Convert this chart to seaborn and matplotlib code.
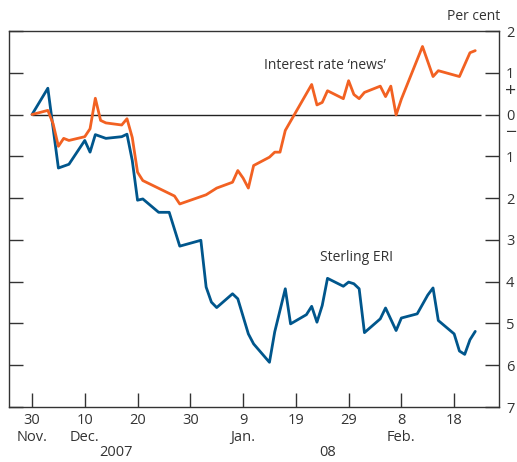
import pandas as pd
import matplotlib
matplotlib.use('Agg')
import matplotlib.pyplot as plt
import matplotlib.dates as mdates
import seaborn as sns

# Sterling ERI, per cent change since 30 Nov 2007
eri_dates = ['2007-11-30', '2007-12-03', '2007-12-05', '2007-12-07', '2007-12-10',
             '2007-12-11', '2007-12-12', '2007-12-14', '2007-12-17', '2007-12-18',
             '2007-12-19', '2007-12-20', '2007-12-21', '2007-12-24', '2007-12-26',
             '2007-12-28', '2008-01-01', '2008-01-02', '2008-01-03', '2008-01-04',
             '2008-01-07', '2008-01-08', '2008-01-10', '2008-01-11', '2008-01-14',
             '2008-01-15', '2008-01-17', '2008-01-18', '2008-01-21', '2008-01-22',
             '2008-01-23', '2008-01-24', '2008-01-25', '2008-01-28', '2008-01-29',
             '2008-01-30', '2008-01-31', '2008-02-01', '2008-02-04', '2008-02-05',
             '2008-02-07', '2008-02-08', '2008-02-11', '2008-02-13', '2008-02-14',
             '2008-02-15', '2008-02-18', '2008-02-19', '2008-02-20', '2008-02-21',
             '2008-02-22']
eri_values = [0, 0.63, -1.28, -1.19, -0.62,
              -0.9, -0.48, -0.57, -0.53, -0.47,
              -1.1, -2.05, -2.02, -2.34, -2.34,
              -3.15, -3.01, -4.13, -4.49, -4.62,
              -4.29, -4.41, -5.25, -5.49, -5.93,
              -5.2, -4.17, -5.01, -4.79, -4.59,
              -4.97, -4.57, -3.92, -4.11, -4.01,
              -4.05, -4.17, -5.22, -4.89, -4.63,
              -5.17, -4.87, -4.77, -4.32, -4.15,
              -4.93, -5.25, -5.66, -5.74, -5.39,
              -5.19]

# Interest rate 'news', percentage points
news_dates = ['2007-11-30', '2007-12-03', '2007-12-04', '2007-12-05', '2007-12-06',
              '2007-12-07', '2007-12-10', '2007-12-11', '2007-12-12', '2007-12-13',
              '2007-12-14', '2007-12-17', '2007-12-18', '2007-12-19', '2007-12-20',
              '2007-12-21', '2007-12-27', '2007-12-28', '2008-01-02', '2008-01-04',
              '2008-01-07', '2008-01-08', '2008-01-09', '2008-01-10', '2008-01-11',
              '2008-01-14', '2008-01-15', '2008-01-16', '2008-01-17', '2008-01-22',
              '2008-01-23', '2008-01-24', '2008-01-25', '2008-01-28', '2008-01-29',
              '2008-01-30', '2008-01-31', '2008-02-01', '2008-02-04', '2008-02-05',
              '2008-02-06', '2008-02-07', '2008-02-08', '2008-02-12', '2008-02-14',
              '2008-02-15', '2008-02-19', '2008-02-21', '2008-02-22']
news_values = [0, 0.1, -0.22, -0.76, -0.57,
               -0.62, -0.53, -0.34, 0.39, -0.14,
               -0.2, -0.25, -0.1, -0.55, -1.38,
               -1.58, -1.95, -2.14, -1.92, -1.76,
               -1.62, -1.34, -1.52, -1.76, -1.22,
               -1.02, -0.9, -0.9, -0.38, 0.72,
               0.23, 0.29, 0.57, 0.38, 0.81,
               0.48, 0.38, 0.53, 0.68, 0.43,
               0.68, -0.01, 0.37, 1.63, 0.91,
               1.05, 0.91, 1.48, 1.53]

tick_dates = ['2007-11-30', '2007-12-10', '2007-12-20', '2007-12-30', '2008-01-09',
              '2008-01-19', '2008-01-29', '2008-02-08', '2008-02-18']
tick_labels = ['30\nNov.', '10\nDec.', '20', '30', '9\nJan.', '19', '29', '8\nFeb.', '18']
y_ticks = [2, 1, 0, -1, -2, -3, -4, -5, -6, -7]
y_labels = ['2', '1', '0', '1', '2', '3', '4', '5', '6', '7']

eri_dates = pd.to_datetime(eri_dates)
news_dates = pd.to_datetime(news_dates)
tick_dates = pd.to_datetime(tick_dates)

sns.set_style('white')
plt.rcParams['font.family'] = ['Open Sans', 'DejaVu Sans']
text_col = '#333333'
blue = '#00568C'
orange = '#F26122'

fig = plt.figure(figsize=(5.17, 4.62), dpi=100)
ax = fig.add_axes([9 / 517, 1 - 407 / 462, 490 / 517, 376 / 462])

# zero line across the data span
ax.hlines(0, eri_dates[0], eri_dates[-1] + pd.Timedelta(days=1), color='#222222', linewidth=1)

sns.lineplot(x=eri_dates, y=eri_values, ax=ax, color=blue, linewidth=2)
sns.lineplot(x=news_dates, y=news_values, ax=ax, color=orange, linewidth=2)

start = mdates.date2num(eri_dates[0])
ax.set_xlim(start - 4.36, start + 88.5)
ax.set_ylim(-7, 2)

ax.set_xticks(tick_dates)
ax.set_xticklabels(tick_labels, linespacing=1.25)
ax.set_yticks(y_ticks)
ax.set_yticklabels(y_labels)

ax.tick_params(axis='x', direction='in', length=10, width=1, color=text_col,
               labelsize=10.5, labelcolor=text_col, pad=4, top=False, bottom=True)
ax.tick_params(axis='y', direction='in', length=10, width=1, color=text_col,
               labelsize=10.5, labelcolor=text_col, pad=5,
               left=True, right=True, labelleft=False, labelright=True)

for s in ax.spines.values():
    s.set_color(text_col)
    s.set_linewidth(1)

ax.set_xlabel('')
ax.set_ylabel('')

# labels
ax.text(pd.Timestamp('2008-01-24 12:00'), 1.17, 'Interest rate \u2018news\u2019',
        fontsize=10, color=text_col, ha='center', va='center')
ax.text(pd.Timestamp('2008-01-30 12:00'), -3.42, 'Sterling ERI',
        fontsize=10, color=text_col, ha='center', va='center')

fig.text(500 / 517, 1 - 16 / 462, 'Per cent', fontsize=10, color=text_col,
         ha='right', va='center')
fig.text(511 / 517, 1 - 91 / 462, '+', fontsize=14, color=text_col, ha='center', va='center')
fig.text(511 / 517, 1 - 133 / 462, '\u2212', fontsize=14, color=text_col, ha='center', va='center')

# year labels under the month names
ax.annotate('2007', xy=(pd.Timestamp('2007-12-16'), 0), xycoords=('data', 'axes fraction'),
            xytext=(0, -46), textcoords='offset pixels', fontsize=10.5, color=text_col,
            ha='center', va='center', annotation_clip=False)
ax.annotate('08', xy=(pd.Timestamp('2008-01-25'), 0), xycoords=('data', 'axes fraction'),
            xytext=(0, -46), textcoords='offset pixels', fontsize=10.5, color=text_col,
            ha='center', va='center', annotation_clip=False)

fig.savefig('out.png', dpi=100)
